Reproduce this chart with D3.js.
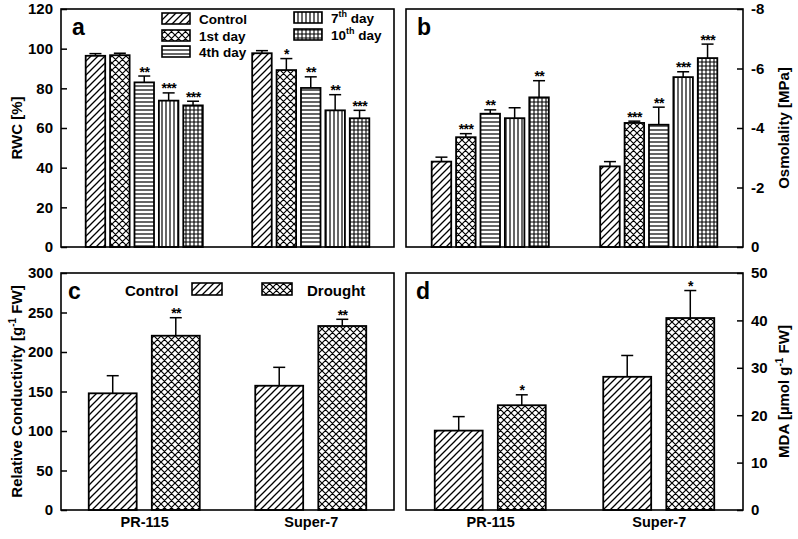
<!DOCTYPE html>
<html><head><meta charset="utf-8">
<script src="https://cdn.jsdelivr.net/npm/d3@7"></script>
<style>
body{margin:0;background:#fff;}
svg{display:block;font-family:"Liberation Sans",Arial,sans-serif;font-weight:bold;}
</style></head>
<body>
<svg id="chart" width="798" height="539"></svg>
<script>
// ---------- data ----------
const groups = ["PR-115", "Super-7"];
const days = ["Control", "1st day", "4th day", "7th day", "10th day"];
const treatments = ["Control", "Drought"];

const rwcMean = [[96.4, 96.7, 83.0, 73.8, 71.4], [97.7, 89.2, 80.2, 68.9, 64.9]];
const rwcErr  = [[1.1, 1.0, 3.2, 3.9, 2.1], [1.3, 5.8, 5.6, 7.9, 4.0]];
const rwcSig  = [["", "", "**", "***", "***"], ["", "*", "**", "**", "***"]];
const rwcTicks = [0, 20, 40, 60, 80, 100, 120];

const osmMean = [[-2.87, -3.69, -4.48, -4.33, -5.03], [-2.71, -4.17, -4.11, -5.71, -6.35]];
const osmErr  = [[0.15, 0.12, 0.13, 0.35, 0.56], [0.16, 0.06, 0.59, 0.18, 0.47]];
const osmSig  = [["", "***", "**", "", "**"], ["", "***", "**", "***", "***"]];
const osmTicks = [0, -2, -4, -6, -8];

const rcMean = [[147.7, 220.6], [157.3, 232.9]];
const rcErr  = [[22.3, 22.8], [23.3, 8.5]];
const rcSig  = [["", "**"], ["", "**"]];
const rcTicks = [0, 50, 100, 150, 200, 250, 300];

const mdaMean = [[16.75, 22.1], [28.1, 40.5]];
const mdaErr  = [[2.95, 2.2], [4.5, 5.8]];
const mdaSig  = [["", "*"], ["", "*"]];
const mdaTicks = [0, 10, 20, 30, 40, 50];

// ---------- patterns ----------
const svg = d3.select("#chart");
const defs = svg.append("defs");
function pat(id, size, d, sw) {
  const p = defs.append("pattern").attr("id", id).attr("patternUnits", "userSpaceOnUse")
    .attr("width", size).attr("height", size);
  p.append("rect").attr("width", size).attr("height", size).attr("fill", "#fff");
  p.append("path").attr("d", d).attr("stroke", "#000").attr("stroke-width", sw).attr("fill", "none");
}
const s = 7;
const diagD = `M0,${s}L${s},0M-1,1L1,-1M${s-1},${s+1}L${s+1},${s-1}`;
const backD = `M0,0L${s},${s}M-1,${s-1}L1,${s+1}M${s-1},-1L${s+1},1`;
pat("diag", s, diagD, 1.3);
pat("cross", s, diagD + backD, 1.2);
pat("hlines", 4, "M0,2H4", 1.2);
pat("vlines", 4, "M2,0V4", 1.2);
pat("grid", 4, "M0,2H4M2,0V4", 1.1);
const dayPatterns = ["diag", "cross", "hlines", "vlines", "grid"];
const trtPatterns = ["diag", "cross"];

// ---------- panel drawing ----------
function panel(cfg) {
  const g = svg.append("g");
  const x = d3.scalePoint().domain(groups).range([cfg.x0, cfg.x1]).padding(0.5);
  const inner = d3.scaleBand().domain(d3.range(cfg.series.length))
    .range([-cfg.innerW / 2, cfg.innerW / 2]).paddingInner(cfg.pi).paddingOuter(cfg.po);
  const y = d3.scaleLinear().domain(cfg.domain).range([cfg.y1, cfg.y0]);

  groups.forEach((grp, gi) => {
    cfg.series.forEach((ser, si) => {
      const m = cfg.mean[gi][si], e = cfg.err[gi][si];
      const bx = x(grp) + inner(si), bw = inner.bandwidth(), cx = bx + bw / 2;
      const top = Math.min(y(m), y(0)), h = Math.abs(y(m) - y(0));
      const et = y(m + Math.sign(m) * e);
      g.append("line").attr("x1", cx).attr("x2", cx).attr("y1", y(m)).attr("y2", et)
        .attr("stroke", "#000").attr("stroke-width", 1.5);
      g.append("line").attr("x1", cx - 6).attr("x2", cx + 6).attr("y1", et).attr("y2", et)
        .attr("stroke", "#000").attr("stroke-width", 1.5);
      g.append("rect").attr("x", bx).attr("y", top).attr("width", bw).attr("height", h)
        .attr("fill", `url(#${cfg.patterns[si]})`).attr("stroke", "#000").attr("stroke-width", 1.8);
      const sig = cfg.sig[gi][si];
      if (sig) {
        g.append("text").attr("x", cx + 0.2).attr("y", et + 0.5).attr("text-anchor", "middle")
          .attr("font-size", 14).attr("letter-spacing", -0.6).text(sig);
      }
    });
  });

  // frame
  g.append("rect").attr("x", cfg.x0).attr("y", cfg.y0).attr("width", cfg.x1 - cfg.x0)
    .attr("height", cfg.y1 - cfg.y0).attr("fill", "none").attr("stroke", "#000").attr("stroke-width", 1.6);

  // y axis
  const right = cfg.side === "right";
  const ax = (right ? d3.axisRight(y) : d3.axisLeft(y)).tickValues(cfg.ticks)
    .tickSizeInner(-6).tickSizeOuter(0).tickPadding(8).tickFormat(d => String(d));
  const ag = g.append("g").attr("transform", `translate(${right ? cfg.x1 : cfg.x0},0)`).call(ax);
  ag.select(".domain").remove();
  ag.selectAll(".tick line").attr("stroke-width", 1.5);
  ag.attr("font-family", null).attr("font-size", null);
  ag.selectAll(".tick text").attr("font-size", 15).attr("fill", "#000");

  // axis title
  const ty = (cfg.y0 + cfg.y1) / 2;
  const t = g.append("text").attr("transform", `translate(${cfg.titleX},${ty}) rotate(-90)`)
    .attr("text-anchor", "middle").attr("font-size", 15);
  cfg.title.forEach(part => {
    const ts = t.append("tspan").text(part.t);
    if (part.sup) ts.attr("font-size", 10).attr("dy", -6);
    if (part.after) ts.attr("dy", 6);
  });

  // letter
  g.append("text").attr("x", cfg.x0 + cfg.letterDx).attr("y", cfg.y0 + 26)
    .attr("font-size", 23).text(cfg.letter);

  // x labels
  if (cfg.xlabels) {
    const xa = d3.axisBottom(x).tickSize(0).tickPadding(7);
    const xg = g.append("g").attr("transform", `translate(0,${cfg.y1})`).call(xa);
    xg.select(".domain").remove();
    xg.attr("font-family", null).attr("font-size", null);
    xg.selectAll(".tick text").attr("font-size", 14.5).attr("fill", "#000");
  }
  return g;
}

const A = { x0: 61, x1: 394, y0: 9, y1: 247 };
const B = { x0: 406, x1: 743, y0: 9, y1: 247 };
const C = { x0: 61, x1: 394, y0: 273, y1: 510 };
const D = { x0: 406, x1: 743, y0: 273, y1: 510 };

panel(Object.assign({}, A, {
  series: days, mean: rwcMean, err: rwcErr, sig: rwcSig, patterns: dayPatterns,
  domain: [0, 120], ticks: rwcTicks, innerW: 122, pi: 0.2, po: 0.1, side: "left",
  titleX: 22, title: [{ t: "RWC [%]" }], letter: "a", letterDx: 11
}));
panel(Object.assign({}, B, {
  series: days, mean: osmMean, err: osmErr, sig: osmSig, patterns: dayPatterns,
  domain: [0, -8], ticks: osmTicks, innerW: 122, pi: 0.2, po: 0.1, side: "right",
  titleX: 789, title: [{ t: "Osmolality [MPa]" }], letter: "b", letterDx: 11
}));
panel(Object.assign({}, C, {
  series: treatments, mean: rcMean, err: rcErr, sig: rcSig, patterns: trtPatterns,
  domain: [0, 300], ticks: rcTicks, innerW: 111, pi: 0.24, po: 0, side: "left",
  titleX: 22, title: [{ t: "Relative Conductivity [g" }, { t: "-1", sup: true }, { t: " FW]", after: true }],
  letter: "c", letterDx: 7, xlabels: true
}));
panel(Object.assign({}, D, {
  series: treatments, mean: mdaMean, err: mdaErr, sig: mdaSig, patterns: trtPatterns,
  domain: [0, 50], ticks: mdaTicks, innerW: 111, pi: 0.24, po: 0, side: "right",
  titleX: 789, title: [{ t: "MDA [µmol g" }, { t: "-1", sup: true }, { t: " FW]", after: true }],
  letter: "d", letterDx: 10, xlabels: true
}));

// ---------- legends ----------
const lg = svg.append("g");
const legA = [
  { i: 0, x: 162, y: 13, parts: [{ t: "Control" }] },
  { i: 1, x: 162, y: 30, parts: [{ t: "1st day" }] },
  { i: 2, x: 162, y: 46, parts: [{ t: "4th day" }] },
  { i: 3, x: 294, y: 12, parts: [{ t: "7" }, { t: "th", sup: true }, { t: " day", after: true }] },
  { i: 4, x: 294, y: 29, parts: [{ t: "10" }, { t: "th", sup: true }, { t: " day", after: true }] }
];
legA.forEach(l => {
  lg.append("rect").attr("x", l.x).attr("y", l.y).attr("width", 28).attr("height", 11)
    .attr("fill", `url(#${dayPatterns[l.i]})`).attr("stroke", "#000").attr("stroke-width", 1.6);
  const t = lg.append("text").attr("x", l.x + 37).attr("y", l.y + 11).attr("font-size", 13.5);
  l.parts.forEach(p => {
    const ts = t.append("tspan").text(p.t);
    if (p.sup) ts.attr("font-size", 9).attr("dy", -6);
    if (p.after) ts.attr("dy", 6);
  });
});
// panel c legend
lg.append("text").attr("x", 125).attr("y", 296).attr("font-size", 15).text(treatments[0]);
lg.append("rect").attr("x", 192).attr("y", 283).attr("width", 30).attr("height", 12)
  .attr("fill", "url(#diag)").attr("stroke", "#000").attr("stroke-width", 1.6);
lg.append("rect").attr("x", 262).attr("y", 283).attr("width", 30).attr("height", 12)
  .attr("fill", "url(#cross)").attr("stroke", "#000").attr("stroke-width", 1.6);
lg.append("text").attr("x", 307).attr("y", 296).attr("font-size", 15).text(treatments[1]);
</script>
</body></html>
